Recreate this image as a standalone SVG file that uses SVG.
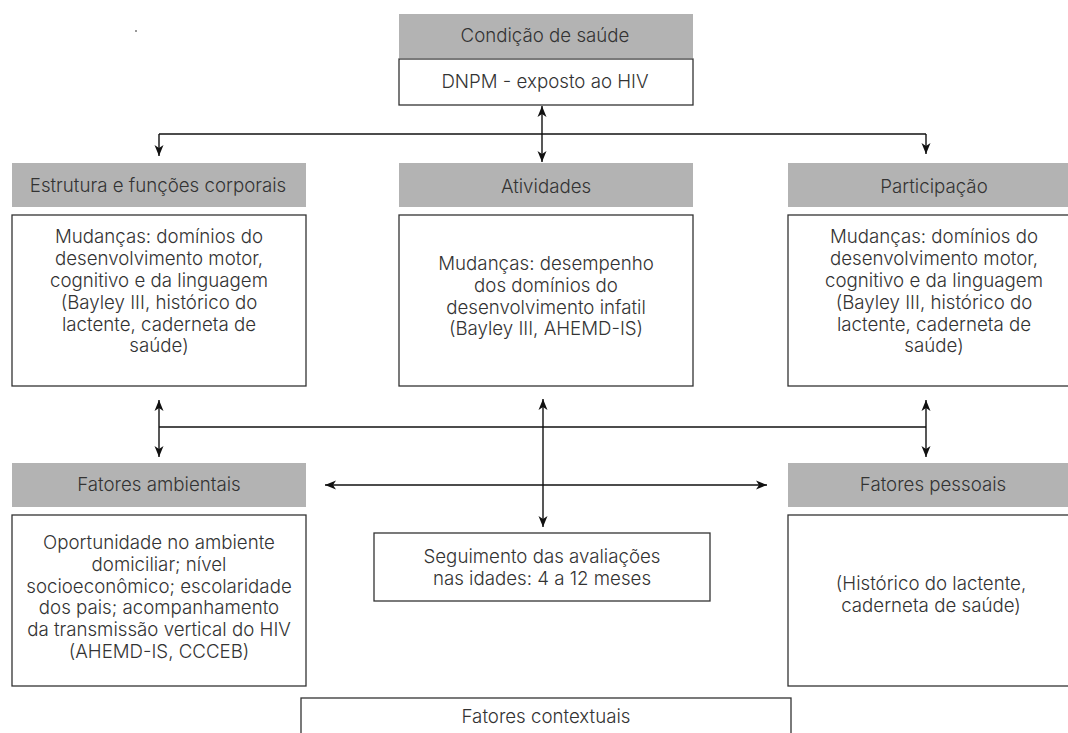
<svg xmlns="http://www.w3.org/2000/svg" width="1068" height="733" viewBox="0 0 1068 733">
<defs>
<marker id="arr" markerUnits="userSpaceOnUse" markerWidth="12" markerHeight="10" viewBox="0 0 12 10" refX="11" refY="5" orient="auto-start-reverse">
<path d="M0,0.5 L11,5 L0,9.5 L3,5 Z" fill="#111"/>
</marker>
<style>
.hdr{fill:#b3b3b3;stroke:none}
.box{fill:#fff;stroke:#333;stroke-width:1.3}
.t{font-family:Inter,"Open Sans","Liberation Sans",sans-serif;font-weight:300;font-size:18.7px;fill:#333;text-anchor:middle}
.c{fill:none;stroke:#111;stroke-width:1.4}
.ca{fill:none;stroke:#111;stroke-width:1.4;marker-end:url(#arr)}
.cb{fill:none;stroke:#111;stroke-width:1.4;marker-start:url(#arr);marker-end:url(#arr)}
</style>
</defs>
<rect x="135" y="30" width="2" height="2" fill="#999"/>
<g id="condicao">
<rect class="hdr" x="399" y="14" width="294" height="44"/>
<text class="t" x="545" y="42">Condição de saúde</text>
</g>
<g id="dnpm">
<rect class="box" x="399" y="59" width="294" height="46"/>
<text class="t" x="545" y="88">DNPM - exposto ao HIV</text>
</g>
<g id="estrutura">
<rect class="hdr" x="12" y="163" width="294" height="44"/>
<text class="t" x="158" y="192">Estrutura e funções corporais</text>
<rect class="box" x="12" y="215" width="294" height="171"/>
<text class="t" x="159" y="243">Mudanças: domínios do</text>
<text class="t" x="159" y="265">desenvolvimento motor,</text>
<text class="t" x="159" y="287">cognitivo e da linguagem</text>
<text class="t" x="159" y="309">(Bayley III, histórico do</text>
<text class="t" x="159" y="331">lactente, caderneta de</text>
<text class="t" x="159" y="352">saúde)</text>
</g>
<g id="atividades">
<rect class="hdr" x="399" y="163" width="294" height="44"/>
<text class="t" x="546" y="193">Atividades</text>
<rect class="box" x="399" y="215" width="294" height="171"/>
<text class="t" x="546" y="270">Mudanças: desempenho</text>
<text class="t" x="546" y="292">dos domínios do</text>
<text class="t" x="546" y="314">desenvolvimento infatil</text>
<text class="t" x="546" y="335">(Bayley III, AHEMD-IS)</text>
</g>
<g id="participacao">
<rect class="hdr" x="788" y="163" width="294" height="44"/>
<text class="t" x="934" y="193">Participação</text>
<rect class="box" x="788" y="215" width="294" height="171"/>
<text class="t" x="934" y="243">Mudanças: domínios do</text>
<text class="t" x="934" y="265">desenvolvimento motor,</text>
<text class="t" x="934" y="287">cognitivo e da linguagem</text>
<text class="t" x="934" y="309">(Bayley III, histórico do</text>
<text class="t" x="934" y="331">lactente, caderneta de</text>
<text class="t" x="934" y="352">saúde)</text>
</g>
<g id="ambientais">
<rect class="hdr" x="12" y="463" width="294" height="44"/>
<text class="t" x="159" y="491">Fatores ambientais</text>
<rect class="box" x="12" y="515" width="294" height="171"/>
<text class="t" x="159" y="549">Oportunidade no ambiente</text>
<text class="t" x="159" y="571">domiciliar; nível</text>
<text class="t" x="159" y="593">socioeconômico; escolaridade</text>
<text class="t" x="159" y="614">dos pais; acompanhamento</text>
<text class="t" x="159" y="636">da transmissão vertical do HIV</text>
<text class="t" x="159" y="658">(AHEMD-IS, CCCEB)</text>
</g>
<g id="seguimento">
<rect class="box" x="374" y="533" width="336" height="68"/>
<text class="t" x="542" y="563">Seguimento das avaliações</text>
<text class="t" x="542" y="585">nas idades: 4 a 12 meses</text>
</g>
<g id="pessoais">
<rect class="hdr" x="788" y="463" width="294" height="44"/>
<text class="t" x="933" y="491">Fatores pessoais</text>
<rect class="box" x="788" y="515" width="294" height="171"/>
<text class="t" x="931" y="590">(Histórico do lactente,</text>
<text class="t" x="931" y="612">caderneta de saúde)</text>
</g>
<g id="contextuais">
<rect class="box" x="301" y="698" width="490" height="50"/>
<text class="t" x="546" y="723">Fatores contextuais</text>
</g>
<g id="connectors">
<path class="c" d="M159,134 H926"/>
<path class="ca" d="M159,134 V156"/>
<path class="ca" d="M926,134 V154"/>
<path class="cb" d="M542,106 V162"/>
<path class="c" d="M159,427 H926"/>
<path class="cb" d="M159,400 V457"/>
<path class="cb" d="M926,400 V457"/>
<path class="cb" d="M543,399 V527"/>
<path class="cb" d="M325,485 H767"/>
</g>
</svg>
